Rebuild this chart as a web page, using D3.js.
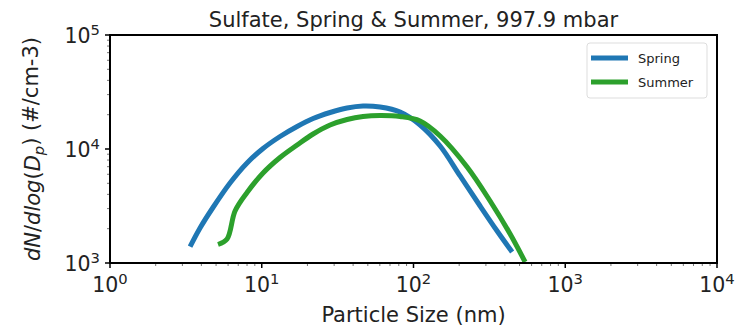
<!DOCTYPE html>
<html>
<head>
<meta charset="utf-8">
<script src="https://cdn.jsdelivr.net/npm/d3@7"></script>
<style>
  html, body { margin: 0; padding: 0; background: #fff; }
  svg { display: block; font-family: "DejaVu Sans", sans-serif; }
</style>
</head>
<body>
<svg id="chart" width="737" height="327"></svg>
<script>
// Sulfate size distributions (diameter in nm, dN/dlogDp in #/cm^3)
const springDp = [3.37, 3.92, 4.77, 6.18, 8.0, 10.2, 13.2, 17.1, 21.8, 28.2, 36.5, 46.5, 60.2, 81.6, 110.5, 149.8, 202.9, 274.8, 355.7, 446.6];
const springN  = [1390, 2028, 3068, 5031, 7539, 10100, 12870, 15760, 18510, 20900, 22890, 23840, 23360, 21120, 16240, 10620, 5799, 3162, 1909, 1249];
const summerDp = [5.15, 5.91, 6.67, 8.0, 10.2, 13.2, 17.1, 21.8, 28.2, 36.5, 46.5, 60.2, 81.6, 110.5, 149.8, 225.6, 319.8, 433.4, 544];
const summerN  = [1453, 1624, 2858, 4153, 6158, 8421, 10840, 13540, 16240, 18150, 19280, 19680, 19280, 17610, 13000, 6952, 3499, 1796, 1020];

const seriesNames = ["Spring", "Summer"];
const seriesColors = ["#1f77b4", "#2ca02c"];
const xTickValues = [1, 10, 100, 1000, 10000];
const yTickValues = [1000, 10000, 100000];
const titleText = "Sulfate, Spring & Summer, 997.9 mbar";
const xLabelText = "Particle Size (nm)";

const svg = d3.select("#chart");
const margin = { left: 110, right: 20, top: 35, bottom: 64 };
const W = 737, H = 327;

const x = d3.scaleLog().domain([1, 10000]).range([margin.left, W - margin.right]);
const y = d3.scaleLog().domain([1000, 100000]).range([H - margin.bottom, margin.top]);

// minor ticks for each decade
function minorTicks(lo, hi) {
  const out = [];
  for (let e = lo; e < hi; e++) {
    for (let k = 2; k <= 9; k++) out.push(k * Math.pow(10, e));
  }
  return out;
}

function supLabel(sel, v) {
  const e = Math.round(Math.log10(v));
  sel.text(null);
  sel.append("tspan").text("10");
  sel.append("tspan").attr("dy", "-0.55em").attr("font-size", "0.72em").text(e);
}

// x axis ticks and labels
const gx = svg.append("g");
gx.selectAll("line.minor").data(minorTicks(0, 4)).join("line")
  .attr("x1", d => x(d)).attr("x2", d => x(d))
  .attr("y1", y.range()[0]).attr("y2", y.range()[0] + 3)
  .attr("stroke", "#555").attr("stroke-width", 0.8);
gx.selectAll("line.major").data(xTickValues).join("line")
  .attr("x1", d => x(d)).attr("x2", d => x(d))
  .attr("y1", y.range()[0]).attr("y2", y.range()[0] + 5)
  .attr("stroke", "#000").attr("stroke-width", 1.5);
gx.selectAll("text").data(xTickValues).join("text")
  .attr("x", d => x(d)).attr("y", y.range()[0] + 29)
  .attr("text-anchor", "middle").attr("font-size", 20.5).attr("fill", "#222")
  .each(function(d) { supLabel(d3.select(this), d); });

// y axis ticks and labels
const gy = svg.append("g");
gy.selectAll("line.minor").data(minorTicks(3, 5)).join("line")
  .attr("x1", x.range()[0] - 3).attr("x2", x.range()[0])
  .attr("y1", d => y(d)).attr("y2", d => y(d))
  .attr("stroke", "#555").attr("stroke-width", 0.8);
gy.selectAll("line.major").data(yTickValues).join("line")
  .attr("x1", x.range()[0] - 5).attr("x2", x.range()[0])
  .attr("y1", d => y(d)).attr("y2", d => y(d))
  .attr("stroke", "#000").attr("stroke-width", 1.5);
gy.selectAll("text").data(yTickValues).join("text")
  .attr("x", x.range()[0] - 10).attr("y", d => y(d) + 8)
  .attr("text-anchor", "end").attr("font-size", 20.5).attr("fill", "#222")
  .each(function(d) { supLabel(d3.select(this), d); });

// curves
const line = d3.line().x(d => x(d[0])).y(d => y(d[1])).curve(d3.curveCatmullRom.alpha(0.5));
const data = [d3.zip(springDp, springN), d3.zip(summerDp, summerN)];
const plot = svg.append("g");
plot.append("clipPath").attr("id", "clip").append("rect")
  .attr("x", x.range()[0]).attr("y", y.range()[1])
  .attr("width", x.range()[1] - x.range()[0]).attr("height", y.range()[0] - y.range()[1]);
plot.selectAll("path").data(data).join("path")
  .attr("d", line).attr("fill", "none")
  .attr("stroke", (d, i) => seriesColors[i])
  .attr("stroke-width", 5).attr("stroke-linejoin", "round")
  .attr("clip-path", "url(#clip)");

// frame
svg.append("rect")
  .attr("x", x.range()[0]).attr("y", y.range()[1])
  .attr("width", x.range()[1] - x.range()[0]).attr("height", y.range()[0] - y.range()[1])
  .attr("fill", "none").attr("stroke", "#000").attr("stroke-width", 2);

// legend
const lg = svg.append("g").attr("transform", "translate(587,43)");
lg.append("rect").attr("width", 120).attr("height", 55).attr("rx", 3)
  .attr("fill", "#fff").attr("stroke", "#ddd").attr("stroke-width", 1);
seriesNames.forEach((n, i) => {
  const yy = 15 + i * 24;
  lg.append("line").attr("x1", 4).attr("x2", 41).attr("y1", yy).attr("y2", yy)
    .attr("stroke", seriesColors[i]).attr("stroke-width", 5);
  lg.append("text").attr("x", 51).attr("y", yy + 5).attr("font-size", 13)
    .attr("fill", "#222").text(n);
});

// title and axis labels
svg.append("text").attr("x", (x.range()[0] + x.range()[1]) / 2).attr("y", 27)
  .attr("text-anchor", "middle").attr("font-size", 21).attr("fill", "#222").text(titleText);
svg.append("text").attr("x", (x.range()[0] + x.range()[1]) / 2).attr("y", 322)
  .attr("text-anchor", "middle").attr("font-size", 21).attr("fill", "#222").text(xLabelText);

const yl = svg.append("text")
  .attr("transform", `translate(40,${(y.range()[0] + y.range()[1]) / 2}) rotate(-90)`)
  .attr("text-anchor", "middle").attr("font-size", 21).attr("fill", "#222");
yl.append("tspan").attr("font-style", "italic").text("dN");
yl.append("tspan").text("/");
yl.append("tspan").attr("font-style", "italic").text("dlog");
yl.append("tspan").text("(");
yl.append("tspan").attr("font-style", "italic").text("D");
yl.append("tspan").attr("font-style", "italic").attr("font-size", "0.7em").attr("dy", "0.3em").text("p");
yl.append("tspan").attr("dy", "-0.3em").text(") (#/cm-3)");
</script>
</body>
</html>
